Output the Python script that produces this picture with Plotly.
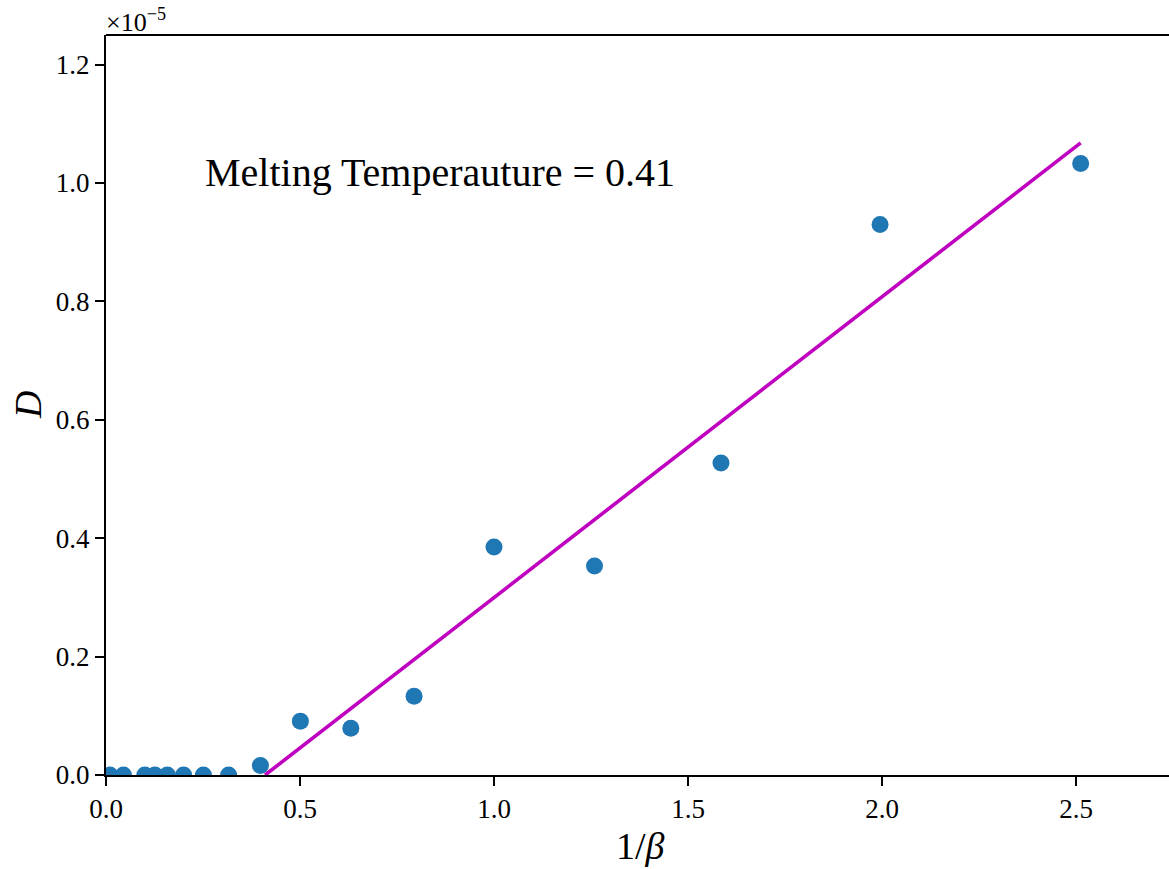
import numpy as np
import plotly.graph_objects as go

# 1/beta values and diffusion coefficient D (in units of 1e-5)
inv_beta = [0.01, 0.045, 0.1, 0.126, 0.158, 0.2, 0.251, 0.316, 0.398,
            0.501, 0.631, 0.794, 1.0, 1.259, 1.585, 1.995, 2.512]
D_mant = [0.0, 0.0, 0.0, 0.0, 0.0, 0.0, 0.0, 0.0, 0.016,
          0.091, 0.079, 0.133, 0.385, 0.353, 0.527, 0.930, 1.033]

# linear fit above melting: D = slope * (1/beta - T_melt)
T_melt = 0.41
slope = 0.508
fit_x = [T_melt, 2.512]

x_ticks = [0.0, 0.5, 1.0, 1.5, 2.0, 2.5]
y_ticks = [0.0, 0.2, 0.4, 0.6, 0.8, 1.0, 1.2]

FONT = "Liberation Serif"
W, H = 1169, 869
L, R, T, B = 106, 0, 35, 94

fit_y = [slope * (x - T_melt) for x in fit_x]

fig = go.Figure()
fig.add_trace(go.Scatter(
    x=inv_beta, y=D_mant, mode="markers",
    marker=dict(color="#1f77b4", size=17, line=dict(width=0)),
    cliponaxis=True, showlegend=False))
fig.add_trace(go.Scatter(
    x=fit_x, y=fit_y, mode="lines",
    line=dict(color="#bf00bf", width=3.6), showlegend=False))

axis_common = dict(
    showgrid=False, zeroline=False, showline=True, linecolor="black",
    linewidth=2, ticks="outside", ticklen=9, tickwidth=2, tickcolor="black",
    tickfont=dict(family=FONT, size=27, color="black"))

fig.update_xaxes(range=[0, (W - L - R) / 388.0], tickvals=x_ticks,
                 ticktext=[f"{v:.1f}" for v in x_ticks], mirror=False,
                 **axis_common)
fig.update_yaxes(range=[0, 1.25], tickvals=y_ticks,
                 ticktext=[f"{v:.1f}" for v in y_ticks], **axis_common)

fig.add_shape(type="line", xref="paper", yref="paper", x0=0, x1=1, y0=1, y1=1,
              line=dict(color="black", width=2))

fig.add_annotation(x=0.25, y=1.018, xref="x", yref="y", xanchor="left",
                   yanchor="middle", showarrow=False,
                   text="Melting Temperauture = 0.41",
                   font=dict(family=FONT, size=40, color="black"))
fig.add_annotation(x=0.0, y=1.0, xref="paper", yref="paper", xanchor="left",
                   yanchor="bottom", showarrow=False, xshift=-2, yshift=-4,
                   text="×10<sup>−5</sup>",
                   font=dict(family=FONT, size=26, color="black"))
fig.add_annotation(x=28, y=0.5, xref="paper", yref="paper", showarrow=False,
                   text="<i>D</i>", textangle=-90,
                   font=dict(family=FONT, size=38, color="black"))
fig.add_annotation(x=0.5, y=0, xref="paper", yref="paper", showarrow=False,
                   text="1/<i>β</i>", yanchor="top", yshift=-48,
                   font=dict(family=FONT, size=38, color="black"))

fig.update_layout(
    width=W, height=H, margin=dict(l=L, r=R, t=T, b=B),
    plot_bgcolor="white", paper_bgcolor="white")

# place the axis labels in pixel terms relative to the plotting area
fig.layout.annotations[2].update(x=-(L - 28) / (W - L - R), xanchor="center")
fig.layout.annotations[3].update(x=(640 - L) / (W - L - R), xanchor="center")

fig.write_html("out.html")
